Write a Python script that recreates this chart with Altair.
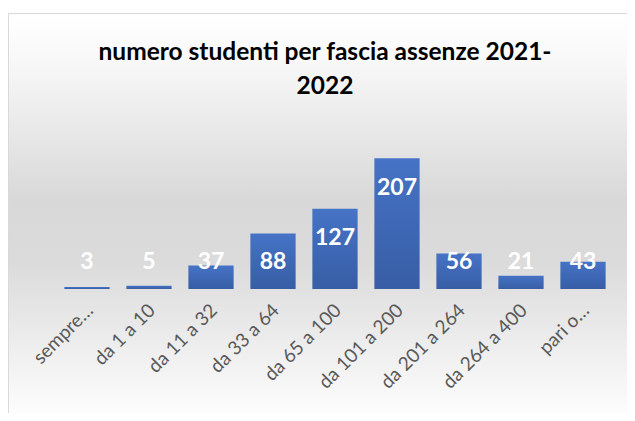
import altair as alt
import pandas as pd

categories = ["sempre…", "da 1 a 10", "da 11 a 32", "da 33 a 64", "da 65 a 100",
              "da 101 a 200", "da 201 a 264", "da 264 a 400", "pari o…"]
values = [3, 5, 37, 88, 127, 207, 56, 21, 43]
title_lines = ["numero studenti per fascia assenze 2021-", "2022"]

df = pd.DataFrame({"fascia": categories, "studenti": values})

W, H = 558, 158
PL, PT, PR, PB = 48, 123, 13, 124

bg_grad = {
    "gradient": "linear", "x1": 0, "y1": 0, "x2": 0, "y2": 1,
    "stops": [
        {"offset": 0.0, "color": "#ffffff"},
        {"offset": 0.12, "color": "#f8f8f8"},
        {"offset": 0.47, "color": "#d8d8d8"},
        {"offset": 0.62, "color": "#dbdbdb"},
        {"offset": 1.0, "color": "#fdfdfd"},
    ],
}
bar_grad = {
    "gradient": "linear", "x1": 0, "y1": 0, "x2": 0, "y2": 1,
    "stops": [
        {"offset": 0.0, "color": "#4673c6"},
        {"offset": 1.0, "color": "#375ea5"},
    ],
}

bg = alt.Chart(pd.DataFrame({"k": [0]})).mark_rect(
    color=bg_grad, stroke="#d9d9d9", strokeWidth=1
).encode(
    x=alt.value(-PL + 0.5), x2=alt.value(W + PR + 30),
    y=alt.value(-PT + 5.5), y2=alt.value(H + PB + 2),
)

title = alt.Chart(pd.DataFrame({"k": [0]})).mark_text(
    font="Lato", fontSize=24.5, fontWeight="bold", color="#000000",
    lineHeight=34, baseline="alphabetic", align="center"
).encode(
    x=alt.value(269), y=alt.value(-71), text=alt.value(title_lines)
)

xenc = alt.X(
    "fascia:N", sort=categories, title=None,
    scale=alt.Scale(paddingInner=0.27, paddingOuter=0.135),
    axis=alt.Axis(labelAngle=-45, labelAlign="right", labelBaseline="middle",
                  labelFont="Lato", labelFontSize=19, labelColor="#595959",
                  labelPadding=18, labelOffset=3, domain=False, ticks=False,
                  labelOverlap=False, zindex=1),
)
yscale = alt.Scale(domain=[0, 250], nice=False)

bars = alt.Chart(df).mark_bar(color=bar_grad).encode(
    x=xenc,
    y=alt.Y("studenti:Q", scale=yscale, axis=None),
)

labels = alt.Chart(df).transform_calculate(
    ly="max(datum.studenti - 47, 43)"
).mark_text(
    font="Lato", fontWeight="bold", fontSize=23, color="white", baseline="middle"
).encode(
    x=alt.X("fascia:N", sort=categories),
    y=alt.Y("ly:Q", scale=yscale, axis=None),
    text="studenti:Q",
)

chart = alt.layer(bg, title, bars, labels).properties(
    width=W, height=H,
    autosize=alt.AutoSizeParams(type="none"),
    padding={"left": PL, "top": PT, "right": PR, "bottom": PB},
    background="white",
).configure_view(stroke=None)

chart.save("out.html", embed_options={"renderer": "svg", "actions": False})
